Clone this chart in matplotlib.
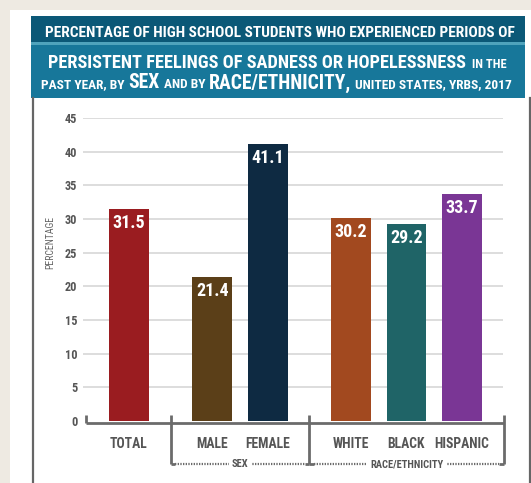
import matplotlib
matplotlib.use("Agg")
import matplotlib.pyplot as plt
from matplotlib import font_manager
from matplotlib.patches import Rectangle

# ---- data ----
categories = ["TOTAL", "MALE", "FEMALE", "WHITE", "BLACK", "HISPANIC"]
values = [31.5, 21.4, 41.1, 30.2, 29.2, 33.7]
bar_colors = ["#9A1C20", "#5B3F18", "#0E2A42", "#A2491F", "#1F6467", "#7A3695"]
positions = [0, 1.5, 2.5, 4, 5, 6]
group_names = ["SEX", "RACE/ETHNICITY"]
group_bounds = [(0.75, 3.25), (3.25, 6.75)]
y_ticks = [0, 5, 10, 15, 20, 25, 30, 35, 40, 45]

# pick a condensed sans with a bold face
bold_faces = {f.name for f in font_manager.fontManager.ttflist
              if (isinstance(f.weight, int) and f.weight >= 700) or f.weight == "bold"}
candidates = ["Roboto Condensed", "Archivo Narrow", "PT Sans Narrow", "Fira Sans Condensed",
              "Barlow Condensed", "Barlow Semi Condensed", "IBM Plex Sans Condensed",
              "Liberation Sans Narrow", "Open Sans Condensed"]
NARROW = next((c for c in candidates if c in bold_faces), "DejaVu Sans")
FAM = [NARROW, "DejaVu Sans"]
plt.rcParams["font.family"] = FAM

W, H = 531, 483
fig = plt.figure(figsize=(W / 100, H / 100), dpi=100)
fig.patch.set_facecolor("#EEEAE2")

# background canvas in pixel coordinates
bg = fig.add_axes([0, 0, 1, 1])
bg.set_xlim(0, W)
bg.set_ylim(H, 0)
bg.axis("off")
bg.add_patch(Rectangle((10, 10), W - 10, H - 10, facecolor="white", edgecolor="none"))
bg.add_patch(Rectangle((31, 16), 494, 26, facecolor="#0B5877", edgecolor="none"))
bg.add_patch(Rectangle((31, 42), 494, 3, facecolor="#4FA3BC", edgecolor="none"))
bg.add_patch(Rectangle((31, 45), 494, 53, facecolor="#17779A", edgecolor="none"))
bg.plot([33, 33], [98, H], color="#666666", lw=1.6)
bg.plot([530, 530], [98, H], color="#666666", lw=1.6)

renderer = fig.canvas.get_renderer()


def text_width_px(s, size):
    t = bg.text(0, 0, s, fontsize=size, fontweight="bold", family=FAM)
    w = t.get_window_extent(renderer=renderer).width
    t.remove()
    return w


def header_line(pieces, y, x0, x1, gap=4.0):
    """pieces: list of (text, relative size). Scaled so the line spans x0..x1."""
    base = 10.0
    widths = [text_width_px(s, base * r) for s, r in pieces]
    gaps = gap * (len(pieces) - 1)
    scale = (x1 - x0 - gaps) / sum(widths)
    x = x0
    for (s, r), w in zip(pieces, widths):
        bg.text(x, y, s, fontsize=base * r * scale, fontweight="bold", color="white",
                family=FAM, ha="left", va="baseline")
        x += w * scale + gap


header_line([("PERCENTAGE OF HIGH SCHOOL STUDENTS WHO EXPERIENCED PERIODS OF", 1.0)], 37, 45, 512)
header_line([("PERSISTENT FEELINGS OF SADNESS OR HOPELESSNESS", 1.0), ("IN THE", 0.68)], 68.5, 48, 506)
header_line([("PAST YEAR, BY", 0.68), ("SEX", 1.0), ("AND BY", 0.68), ("RACE/ETHNICITY,", 1.0),
             ("UNITED STATES, YRBS, 2017", 0.68)], 88.5, 41, 512)

# ---- chart axes ----
px_left, px_right, px_top, px_bottom = 83, 503, 118, 421
unit = 55.5
center0 = 129
ax = fig.add_axes([px_left / W, 1 - px_bottom / H, (px_right - px_left) / W, (px_bottom - px_top) / H])
ax.set_xlim((px_left - center0) / unit, (px_right - center0) / unit)
ax.set_ylim(0, 45)
ax.patch.set_alpha(0)
for sp in ax.spines.values():
    sp.set_visible(False)
ax.set_xticks([])
ax.set_yticks(y_ticks)
ax.set_yticklabels([str(v) for v in y_ticks], fontsize=8.8, fontweight="bold", color="#555555")
ax.tick_params(axis="y", length=0, pad=4)
for v in y_ticks[1:]:
    ax.axhline(v, color="#DADADA", lw=1.3, zorder=0)

bars = ax.bar(positions, values, width=0.72, color=bar_colors, zorder=2)
for b, v in zip(bars, values):
    ax.annotate(f"{v}", (b.get_x() + b.get_width() / 2, v), xytext=(0, -3.5),
                textcoords="offset points", ha="center", va="top",
                color="white", fontsize=13, fontweight="bold", zorder=3)

ax.text(-0.079, 0.59, "PERCENTAGE", transform=ax.transAxes, rotation=90,
        ha="center", va="center", fontsize=7, color="#666666")

# category labels and bracket axis
gray = "#6B6B6B"
pxu = 45 / (px_bottom - px_top)  # data units per pixel vertically
y_base = -2 * pxu
y_tick_top = 6 * pxu
y_brk = -43 * pxu
y_lab = -23 * pxu
kw = dict(clip_on=False, color=gray, lw=2, solid_capstyle="butt", zorder=4)
ax.plot([-0.775, 6.75], [y_base, y_base], **kw)
ax.plot([-0.775, -0.775], [y_base, y_tick_top], **kw)
for xb in [0.75, 3.25, 6.75]:
    ax.plot([xb, xb], [y_brk, y_tick_top], **kw)
for p, c in zip(positions, categories):
    ax.text(p, y_lab, c, ha="center", va="center", fontsize=9.8, fontweight="bold",
            color="#555555", clip_on=False)

for name, (a, b) in zip(group_names, group_bounds):
    mid = (a + b) / 2
    ax.text(mid, y_brk, name, ha="center", va="center", fontsize=7.6,
            fontweight="bold", color="#555555", clip_on=False, zorder=5,
            bbox=dict(facecolor="white", edgecolor="none", pad=2))
    ax.plot([a, a + 0.08], [y_brk, y_brk], **kw)
    ax.plot([b - 0.08, b], [y_brk, y_brk], **kw)
    ax.plot([a + 0.08, b - 0.08], [y_brk, y_brk], clip_on=False, color=gray,
            lw=1.6, ls=(0, (0.6, 0.6)), zorder=3)

fig.savefig("out.png", dpi=100, facecolor=fig.get_facecolor())
